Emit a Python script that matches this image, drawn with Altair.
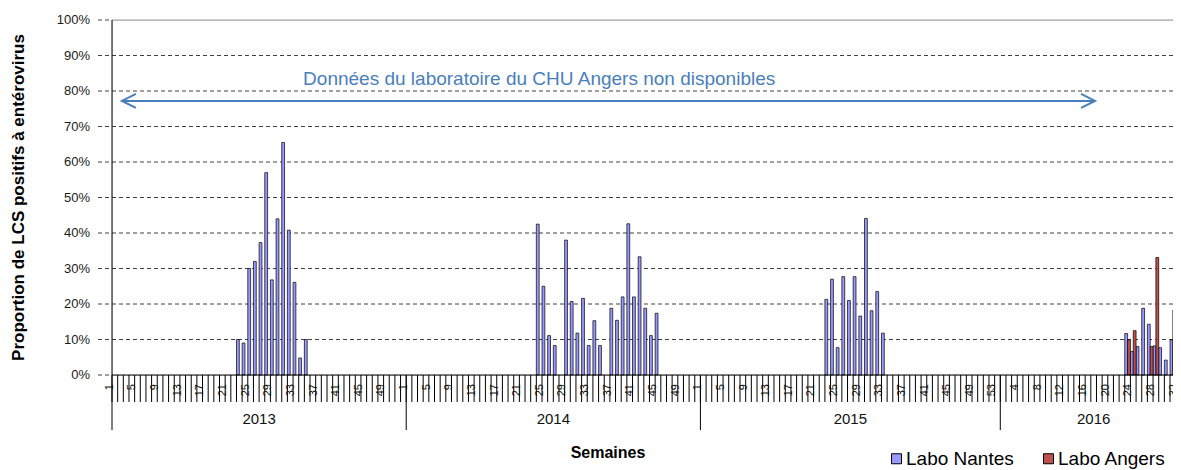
import altair as alt
import pandas as pd

# ---------------- data ----------------
years = [2013, 2014, 2015, 2016]
weeks_in_year = [52, 52, 53, 33]
series_names = ["Labo Nantes", "Labo Angers"]
series_colors = ["#9999FF", "#C0504D"]

nantes_2013_weeks = list(range(23, 36))
nantes_2013 = [0.10, 0.09, 0.30, 0.32, 0.373, 0.57, 0.268, 0.44, 0.655, 0.408, 0.261, 0.048, 0.10]

nantes_2014_weeks = list(range(24, 46))
nantes_2014 = [0.425, 0.25, 0.111, 0.083, None, 0.38, 0.207, 0.118, 0.216, 0.083, 0.153,
               0.083, None, 0.188, 0.154, 0.22, 0.426, 0.22, 0.333, 0.188, 0.111, 0.174]

nantes_2015_weeks = list(range(23, 34))
nantes_2015 = [0.213, 0.27, 0.077, 0.277, 0.21, 0.277, 0.166, 0.441, 0.181, 0.235, 0.118]

nantes_2016_weeks = list(range(23, 34))
nantes_2016 = [0.117, 0.066, 0.08, 0.188, 0.143, 0.082, 0.077, 0.042, 0.099, 0.117, 0.166]
angers_2016_weeks = list(range(23, 34))
angers_2016 = [0.099, 0.125, None, None, 0.08, 0.331, None, None, 0.183, 0.089, None]

y_tick_values = [0.0, 0.1, 0.2, 0.3, 0.4, 0.5, 0.6, 0.7, 0.8, 0.9, 1.0]
y_tick_labels = ["0%", "10%", "20%", "30%", "40%", "50%", "60%", "70%", "80%", "90%", "100%"]

annotation_text = "Données du laboratoire du CHU Angers non disponibles"
y_title = "Proportion de LCS positifs à entérovirus"
x_title = "Semaines"

# ---------------- categories ----------------
keys = []
key_of = {}
for y, n in zip(years, weeks_in_year):
    for w in range(1, n + 1):
        k = f"{len(keys):03d}|{y}|{w:02d}"
        key_of[(y, w)] = k
        keys.append(k)

rows = []
def add(series, year, weeks, vals):
    for w, v in zip(weeks, vals):
        if v is not None and v > 0:
            rows.append({"key": key_of[(year, w)], "series": series, "value": v})

add("Labo Nantes", 2013, nantes_2013_weeks, nantes_2013)
add("Labo Nantes", 2014, nantes_2014_weeks, nantes_2014)
add("Labo Nantes", 2015, nantes_2015_weeks, nantes_2015)
add("Labo Nantes", 2016, nantes_2016_weeks, nantes_2016)
add("Labo Angers", 2016, angers_2016_weeks, angers_2016)
bars_df = pd.DataFrame(rows)

all_keys_df = pd.DataFrame({"key": keys})
xlab_df = pd.DataFrame({"key": [k for i, k in enumerate(keys) if i % 4 == 0],
                        "label": [str(int(k.split("|")[2])) for i, k in enumerate(keys) if i % 4 == 0]})
year_start_df = pd.DataFrame({"key": [key_of[(y, 1)] for y in years]})
even_df = pd.DataFrame({"key": [key_of[(y, n // 2 + 1)] for y, n in zip(years, weeks_in_year) if n % 2 == 0],
                        "label": [str(y) for y, n in zip(years, weeks_in_year) if n % 2 == 0]})
odd_df = pd.DataFrame({"key": [key_of[(y, n // 2 + 1)] for y, n in zip(years, weeks_in_year) if n % 2 == 1],
                       "label": [str(y) for y, n in zip(years, weeks_in_year) if n % 2 == 1]})
ytick_df = pd.DataFrame({"value": y_tick_values, "label": y_tick_labels})
ygrid_df = ytick_df[(ytick_df.value > 0) & (ytick_df.value < 1)]

FONT = "Liberation Sans"
PW, PH = 1075, 355
LEFT, TOP = 104, 12
SVG_W, SVG_H = 1165, 462

xscale = alt.Scale(domain=keys, paddingInner=0, paddingOuter=0)
yscale = alt.Scale(domain=[0, 1], nice=False)

def X(**kw):
    return alt.X("key:N", scale=xscale, axis=None, **kw)

def Y(f="value:Q"):
    return alt.Y(f, scale=yscale, axis=None)

# y axis pieces
y_grid = alt.Chart(ygrid_df).mark_rule(color="#404040", strokeWidth=1, strokeDash=[4, 3]).encode(y=Y())
top_line = alt.Chart(ytick_df[ytick_df.value == 1]).mark_rule(color="#9a9a9a", strokeWidth=1).encode(y=Y())
y_ticks = alt.Chart(ytick_df).mark_rule(color="#404040", strokeWidth=1, strokeDash=[4, 3]).encode(
    y=Y(), x=alt.value(-14), x2=alt.value(0))
y_labels = alt.Chart(ytick_df).mark_text(font=FONT, fontSize=13, color="#1a1a1a", align="right",
                                         baseline="middle").encode(y=Y(), x=alt.value(-22), text="label:N")
y_title_l = alt.Chart(pd.DataFrame({"t": [y_title]})).mark_text(
    font=FONT, fontSize=17, fontWeight="bold", color="#000", angle=270, align="center", baseline="middle"
).encode(x=alt.value(-93), y=alt.value(PH / 2), text="t:N")

bars = alt.Chart(bars_df).mark_bar(stroke="#000", strokeWidth=0.7).encode(
    x=X(),
    xOffset=alt.XOffset("series:N", scale=alt.Scale(domain=series_names, paddingInner=0, paddingOuter=0)),
    y=Y(),
    color=alt.Color("series:N", scale=alt.Scale(domain=series_names, range=series_colors),
                    legend=alt.Legend(title=None, orient="none", legendX=775, legendY=429,
                                      direction="horizontal", symbolType="square", symbolSize=100,
                                      symbolStrokeColor="#000", symbolStrokeWidth=1,
                                      labelFont=FONT, labelFontSize=19, labelColor="#000",
                                      labelOffset=0, columnPadding=25)),
)

y_domain = alt.Chart(ytick_df.iloc[[0]]).mark_rule(color="#000", strokeWidth=1).encode(
    x=alt.value(0), y=alt.value(0), y2=alt.value(PH))

# x axis pieces
x_domain = alt.Chart(ytick_df.iloc[[0]]).mark_rule(color="#000", strokeWidth=1).encode(
    y=alt.value(PH), x=alt.value(0), x2=alt.value(PW))
x_ticks = alt.Chart(all_keys_df).mark_rule(color="#000", strokeWidth=1).encode(
    x=X(bandPosition=0), y=alt.value(PH), y2=alt.value(PH + 27))
x_labels = alt.Chart(xlab_df).mark_text(font=FONT, fontSize=11, color="#111", angle=270,
                                        align="right", baseline="middle", dy=-5).encode(
    x=X(bandPosition=0.5), y=alt.value(PH + 9), text="label:N")
separators = alt.Chart(year_start_df).mark_rule(color="#000", strokeWidth=1).encode(
    x=X(bandPosition=0), y=alt.value(PH), y2=alt.value(PH + 55))
year_even = alt.Chart(even_df).mark_text(font=FONT, fontSize=15, color="#111", baseline="middle").encode(
    x=X(bandPosition=0), y=alt.value(PH + 44), text="label:N")
year_odd = alt.Chart(odd_df).mark_text(font=FONT, fontSize=15, color="#111", baseline="middle").encode(
    x=X(bandPosition=0.5), y=alt.value(PH + 44), text="label:N")
x_title_l = alt.Chart(pd.DataFrame({"t": [x_title]})).mark_text(
    font=FONT, fontSize=16, fontWeight="bold", color="#000", align="center", baseline="middle"
).encode(x=alt.value(496), y=alt.value(PH + 78), text="t:N")

# annotation
ann_text = alt.Chart(pd.DataFrame({"key": [keys[75]], "value": [0.834], "t": [annotation_text]})).mark_text(
    font=FONT, fontSize=19, color="#4A7EBB", baseline="middle", align="center"
).encode(x=X(), y=Y(), text="t:N")
arrow_df = pd.DataFrame({"key": [keys[1], keys[173]], "value": [0.772, 0.772]})
arrow_line = alt.Chart(arrow_df).mark_line(color="#4A7EBB", strokeWidth=2).encode(
    x=X(bandPosition=0.75), y=Y())
head_l = alt.Chart(arrow_df.iloc[[0]]).mark_point(
    shape="M2,-1L0,0L2,1", size=196, filled=False, color="#4A7EBB", strokeWidth=2, opacity=1
).encode(x=X(bandPosition=0.75), y=Y())
head_r = alt.Chart(arrow_df.iloc[[1]]).mark_point(
    shape="M-2,-1L0,0L-2,1", size=196, filled=False, color="#4A7EBB", strokeWidth=2, opacity=1
).encode(x=X(bandPosition=0.75), y=Y())

chart = alt.layer(
    y_grid, top_line, y_ticks, y_labels, y_title_l,
    bars, x_ticks, separators, x_domain, y_domain, x_labels, year_even, year_odd, x_title_l,
    ann_text, arrow_line, head_l, head_r,
).properties(
    width=PW, height=PH,
    autosize=alt.AutoSizeParams(type="none"),
    padding={"left": LEFT, "top": TOP, "right": SVG_W - LEFT - PW, "bottom": SVG_H - TOP - PH},
).configure_view(stroke=None).configure(background="white")

chart.save("out.html", embed_options={"renderer": "svg", "actions": False})
